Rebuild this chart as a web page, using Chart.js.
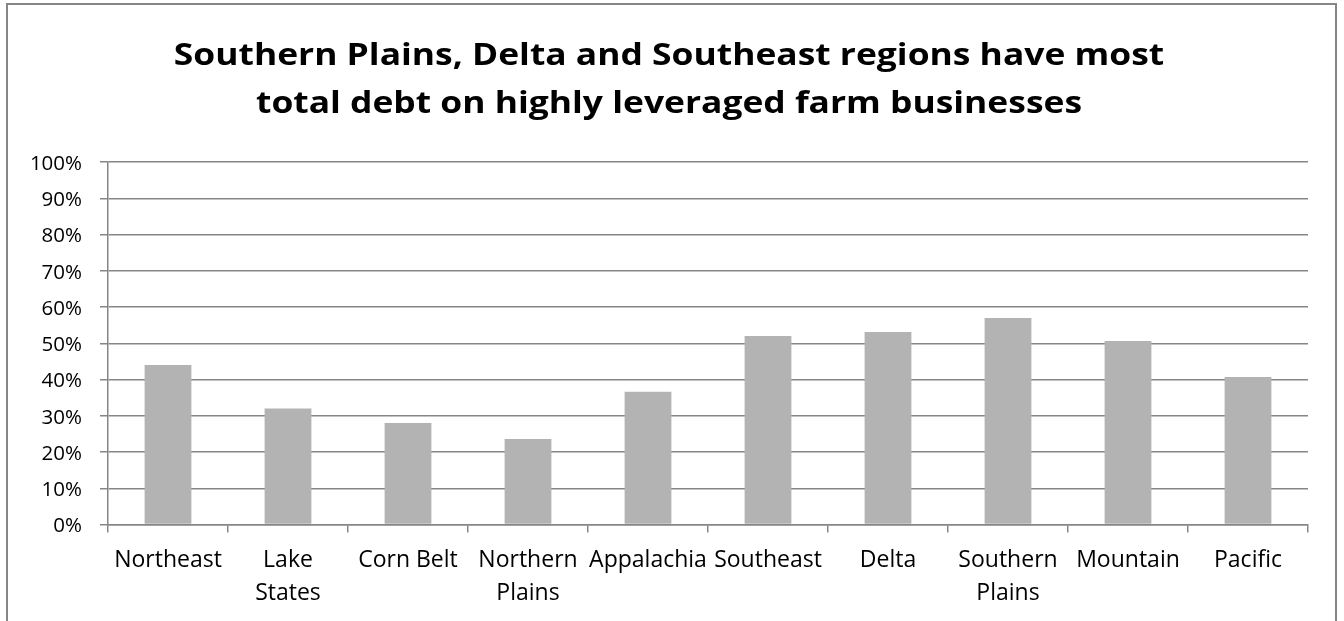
<!DOCTYPE html>
<html>
<head>
<meta charset="utf-8">
<script src="https://cdn.jsdelivr.net/npm/chart.js@4/dist/chart.umd.min.js"></script>
<style>
  html, body { margin: 0; padding: 0; background: #ffffff; overflow: hidden; }
  #chart { display: block; }
</style>
</head>
<body>
<canvas id="chart" width="1344" height="621" style="width:1344px;height:621px"></canvas>
<script>
// Farm regions (multi-line labels as arrays)
const regions = [
  ["Northeast"], ["Lake", "States"], ["Corn Belt"], ["Northern", "Plains"], ["Appalachia"],
  ["Southeast"], ["Delta"], ["Southern", "Plains"], ["Mountain"], ["Pacific"]
];
// Share of total debt held by highly leveraged farm businesses, percent
const debtShare = [44.0, 32.0, 28.0, 23.6, 36.6, 52.0, 53.1, 57.0, 50.6, 40.7];
// Y axis tick values, percent
const percentTicks = [0, 10, 20, 30, 40, 50, 60, 70, 80, 90, 100];
const titleLines = [
  "Southern Plains, Delta and Southeast regions have most",
  "total debt on highly leveraged farm businesses"
];

const GRID = '#868686';

// Outer frame and two-line bold title (slightly widened lettering)
const framePlugin = {
  id: 'frameAndTitle',
  afterDraw(chart) {
    const ctx = chart.ctx;
    ctx.save();
    ctx.strokeStyle = GRID;
    ctx.lineWidth = 2;
    ctx.beginPath();
    ctx.moveTo(7, 625);
    ctx.lineTo(7, 4);
    ctx.lineTo(1336, 4);
    ctx.lineTo(1336, 625);
    ctx.stroke();

    ctx.fillStyle = '#000000';
    ctx.font = 'bold 29.5px "Open Sans"';
    ctx.textAlign = 'center';
    ctx.textBaseline = 'alphabetic';
    ctx.translate(669, 0);
    ctx.scale(1.2, 1);
    ctx.fillText(titleLines[0], 0, 65);
    ctx.fillText(titleLines[1], 0, 113);
    ctx.restore();
  }
};

new Chart(document.getElementById('chart'), {
  type: 'bar',
  data: {
    labels: regions,
    datasets: [{
      data: debtShare,
      backgroundColor: '#b3b3b3',
      borderWidth: 0,
      barPercentage: 0.39,
      categoryPercentage: 1.0
    }]
  },
  options: {
    responsive: false,
    devicePixelRatio: 1,
    animation: false,
    layout: { padding: { top: 162, right: 36, bottom: 0, left: 0 } },
    plugins: { legend: { display: false }, tooltip: { enabled: false }, title: { display: false } },
    scales: {
      x: {
        offset: true,
        grid: {
          display: true,
          offset: true,
          drawOnChartArea: false,
          drawTicks: true,
          tickLength: 8,
          color: GRID,
          lineWidth: 1.5
        },
        border: { display: true, color: GRID, width: 1.5 },
        ticks: {
          color: '#000000',
          font: { family: '"Open Sans"', size: 23, lineHeight: 1.46 },
          padding: 11,
          maxRotation: 0,
          autoSkip: false
        },
        afterFit(scale) { scale.height = 96.5; }
      },
      y: {
        min: 0,
        max: 100,
        afterBuildTicks(scale) { scale.ticks = percentTicks.map(v => ({ value: v })); },
        grid: {
          color: GRID,
          lineWidth: 1.5,
          drawTicks: true,
          tickLength: 8
        },
        border: { display: true, color: GRID, width: 1.5 },
        ticks: {
          color: '#000000',
          font: { family: '"Open Sans"', size: 20.5 },
          padding: 18,
          labelOffset: 2,
          callback: v => v + '%'
        },
        afterFit(scale) { scale.width = 108; }
      }
    }
  },
  plugins: [framePlugin]
});
</script>
</body>
</html>
